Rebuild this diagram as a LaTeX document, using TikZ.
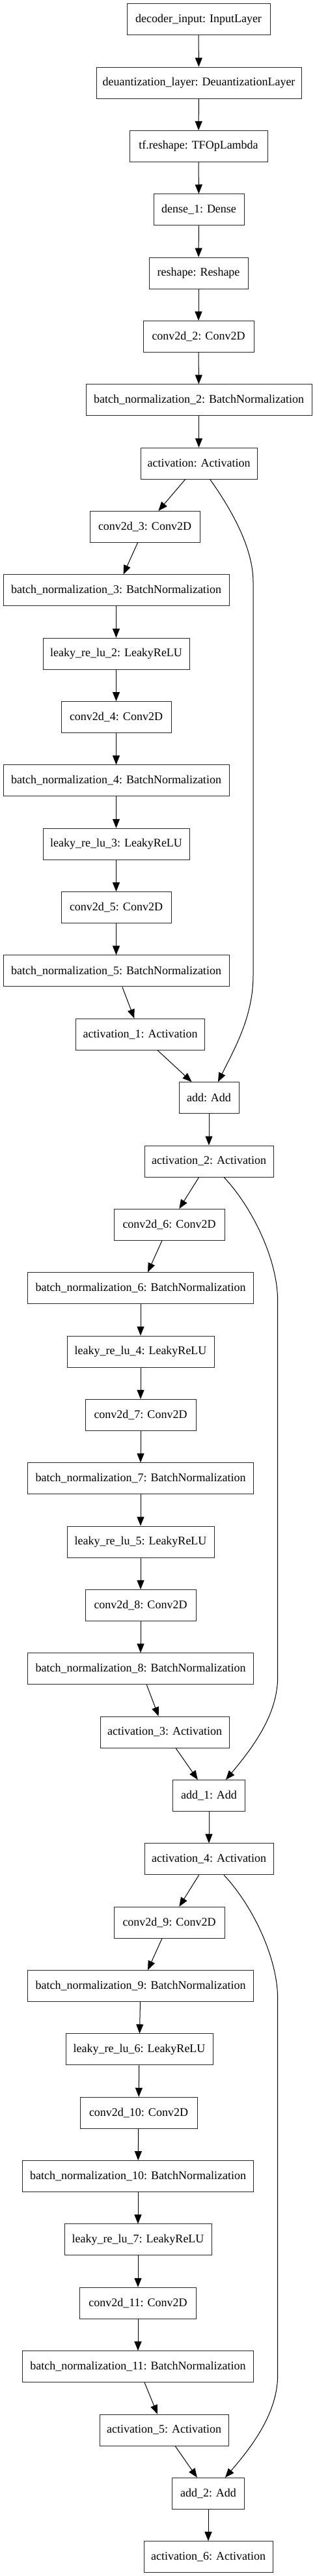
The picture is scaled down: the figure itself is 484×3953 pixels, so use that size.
\documentclass[tikz,border=0pt]{standalone}
\usepackage{fontspec}
\setmainfont{Liberation Serif}
\usetikzlibrary{arrows.meta,calc}
\tikzset{
  layerbox/.style={draw=black!85, line width=1pt, fill=white, minimum height=48pt, inner sep=0pt,
    font=\fontsize{18}{20}\selectfont},
  edge/.style={line width=1pt, -{Triangle[length=14pt,width=11pt]}},
}
\newcommand{\lay}[5]{\node[layerbox, minimum width=#4 pt] (#1) at ({#2},{29.7+97.35*#3}) {#5};}
\begin{document}
\begin{tikzpicture}[x=1pt,y=-1pt]
\useasboundingbox[fill=white] (0,0) rectangle (484,3953);
\lay{in}{305}{0}{220}{decoder\_input: InputLayer}
\lay{deq}{305.5}{1}{315}{deuantization\_layer: DeuantizationLayer}
\lay{tfr}{305}{2}{212}{tf.reshape: TFOpLambda}
\lay{den}{305.5}{3}{139}{dense\_1: Dense}
\lay{rsh}{305}{4}{152}{reshape: Reshape}
\lay{c2}{305}{5}{170}{conv2d\_2: Conv2D}
\lay{b2}{305.5}{6}{347}{batch\_normalization\_2: BatchNormalization}
\lay{a0}{305.5}{7}{179}{activation: Activation}
\lay{c3}{222.5}{8}{169}{conv2d\_3: Conv2D}
\lay{b3}{178.5}{9}{347}{batch\_normalization\_3: BatchNormalization}
\lay{l2}{178.5}{10}{225}{leaky\_re\_lu\_2: LeakyReLU}
\lay{c4}{178.5}{11}{169}{conv2d\_4: Conv2D}
\lay{b4}{178.5}{12}{347}{batch\_normalization\_4: BatchNormalization}
\lay{l3}{178.5}{13}{225}{leaky\_re\_lu\_3: LeakyReLU}
\lay{c5}{178.5}{14}{169}{conv2d\_5: Conv2D}
\lay{b5}{178.5}{15}{347}{batch\_normalization\_5: BatchNormalization}
\lay{a1}{215.7}{16}{198}{activation\_1: Activation}
\lay{ad0}{321}{17}{92}{add: Add}
\lay{a2}{321}{18}{198}{activation\_2: Activation}
\lay{c6}{260}{19}{170}{conv2d\_6: Conv2D}
\lay{b6}{216}{20}{347}{batch\_normalization\_6: BatchNormalization}
\lay{l4}{216}{21}{226}{leaky\_re\_lu\_4: LeakyReLU}
\lay{c7}{216}{22}{170}{conv2d\_7: Conv2D}
\lay{b7}{216}{23}{347}{batch\_normalization\_7: BatchNormalization}
\lay{l5}{216}{24}{226}{leaky\_re\_lu\_5: LeakyReLU}
\lay{c8}{216}{25}{170}{conv2d\_8: Conv2D}
\lay{b8}{216}{26}{347}{batch\_normalization\_8: BatchNormalization}
\lay{a3}{253}{27}{198}{activation\_3: Activation}
\lay{ad1}{321}{28}{111}{add\_1: Add}
\lay{a4}{321}{29}{198}{activation\_4: Activation}
\lay{c9}{260}{30}{170}{conv2d\_9: Conv2D}
\lay{b9}{216}{31}{347}{batch\_normalization\_9: BatchNormalization}
\lay{l6}{214}{32}{226}{leaky\_re\_lu\_6: LeakyReLU}
\lay{c10}{213}{33}{180}{conv2d\_10: Conv2D}
\lay{b10}{212}{34}{355}{batch\_normalization\_10: BatchNormalization}
\lay{l7}{212}{35}{226}{leaky\_re\_lu\_7: LeakyReLU}
\lay{c11}{212}{36}{179}{conv2d\_11: Conv2D}
\lay{b11}{212}{37}{355}{batch\_normalization\_11: BatchNormalization}
\lay{a5}{252}{38}{198}{activation\_5: Activation}
\lay{ad2}{320}{39}{111}{add\_2: Add}
\lay{a6}{320}{40}{198}{activation\_6: Activation}
\foreach \s/\t in {in/deq,deq/tfr,tfr/den,den/rsh,rsh/c2,c2/b2,b2/a0,a0/c3,c3/b3,b3/l2,l2/c4,c4/b4,b4/l3,l3/c5,c5/b5,b5/a1,a1/ad0,ad0/a2,a2/c6,c6/b6,b6/l4,l4/c7,c7/b7,b7/l5,l5/c8,c8/b8,b8/a3,a3/ad1,ad1/a4,a4/c9,c9/b9,b9/l6,l6/c10,c10/b10,b10/l7,l7/c11,c11/b11,b11/a5,a5/ad2,ad2/a6}
  \draw[edge] (\s) -- (\t);
% skip connections
\coordinate (s1a) at (389,893);
\coordinate (s1b) at (389,1497);
\draw[edge] ($(a0.south)+(17.2,0)$) .. controls +(32,45) and (389,840) .. (s1a) -- (s1b)
  .. controls (389,1560) and (360,1610) .. ($(ad0.north)+(14,0)$);
\coordinate (s2a) at (426.7,1997);
\coordinate (s2b) at (426.7,2573);
\draw[edge] ($(a2.south)+(23,0)$) .. controls +(41,43) and (426.7,1930) .. (s2a) -- (s2b)
  .. controls (426.7,2630) and (390,2680) .. ($(ad1.north)+(26,0)$);
\coordinate (s3a) at (426.7,3068);
\coordinate (s3b) at (426.7,3644);
\draw[edge] ($(a4.south)+(23,0)$) .. controls +(41,43) and (426.7,3001) .. (s3a) -- (s3b)
  .. controls (426.7,3701) and (390,3751) .. ($(ad2.north)+(26,0)$);
\end{tikzpicture}
\end{document}
